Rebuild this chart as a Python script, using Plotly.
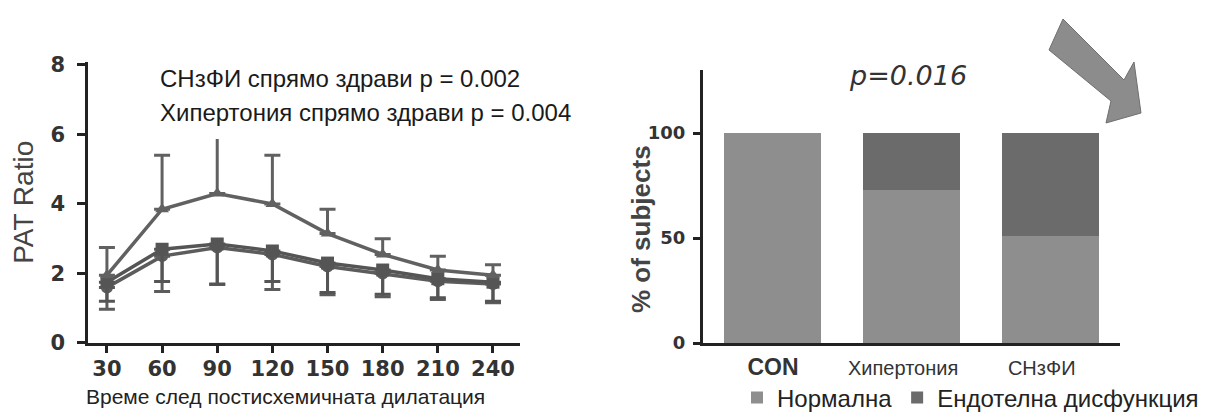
import plotly.graph_objects as go

# page body margin offsets the figure by 8px; build the figure in reference pixel space
OFF = 8
W, H = 1227 - OFF, 413 - OFF

# ---------------- data ----------------
time_min = [30, 60, 90, 120, 150, 180, 210, 240]
chf_ratio = [1.95, 3.85, 4.3, 4.0, 3.15, 2.55, 2.1, 1.95]
chf_err_up = [0.8, 1.55, 2.3, 1.4, 0.7, 0.45, 0.4, 0.3]
htn_ratio = [1.75, 2.7, 2.85, 2.65, 2.3, 2.1, 1.85, 1.75]
htn_err_down = [0.55, 0.93, 1.15, 0.88, 0.85, 0.7, 0.55, 0.55]
con_ratio = [1.6, 2.5, 2.75, 2.55, 2.2, 2.0, 1.78, 1.7]
con_err_down = [0.63, 1.02, 1.07, 1.01, 0.81, 0.67, 0.53, 0.54]

groups = ["CON", "Хипертония", "СНзФИ"]
NB = "\u00a0\u00a0\u00a0"
group_labels = ["<b><span style='font-size:23px'>CON</span></b>", "Хипертония" + NB, "СНзФИ" + NB]
normal_pct = [100, 73, 51]
dysfunction_pct = [0, 27, 49]

left_ticks = [0, 2, 4, 6, 8]
right_ticks = [0, 50, 100]


def px(x):
    return (x - OFF) / W


def py(y):
    return 1 - (y - OFF) / H


fig = go.Figure()

fig.add_trace(go.Scatter(
    x=time_min, y=con_ratio, mode="lines+markers", xaxis="x", yaxis="y",
    line=dict(color="#5c5c5c", width=3.5), marker=dict(symbol="circle", size=12, color="#5c5c5c"),
    error_y=dict(type="data", symmetric=False, array=[0] * 8, arrayminus=con_err_down,
                 color="#5c5c5c", thickness=3, width=8),
    showlegend=False))
fig.add_trace(go.Scatter(
    x=time_min, y=htn_ratio, mode="lines+markers", xaxis="x", yaxis="y",
    line=dict(color="#555555", width=3.5), marker=dict(symbol="square", size=13, color="#555555"),
    error_y=dict(type="data", symmetric=False, array=[0] * 8, arrayminus=htn_err_down,
                 color="#555555", thickness=3, width=8),
    showlegend=False))
fig.add_trace(go.Scatter(
    x=time_min, y=chf_ratio, mode="lines+markers", xaxis="x", yaxis="y",
    line=dict(color="#616161", width=3.5), marker=dict(symbol="triangle-up", size=12, color="#616161"),
    error_y=dict(type="data", symmetric=False, array=chf_err_up, arrayminus=[0] * 8,
                 color="#616161", thickness=3, width=8),
    showlegend=False))

fig.add_trace(go.Bar(x=groups, y=normal_pct, name="Нормална", xaxis="x2", yaxis="y2",
                     marker=dict(color="#8e8e8e", line=dict(width=0))))
fig.add_trace(go.Bar(x=groups, y=dysfunction_pct, name="Ендотелна дисфункция", xaxis="x2", yaxis="y2",
                     marker=dict(color="#6b6b6b", line=dict(width=0))))

axis_col = "#222222"
tick_font = dict(family="DejaVu Sans", size=21, color="#333333", weight="bold")

fig.update_layout(
    width=W, height=H, autosize=False,
    margin=dict(l=0, r=0, t=0, b=0, autoexpand=False),
    paper_bgcolor="white", plot_bgcolor="white",
    barmode="stack", bargap=0.3,
    xaxis=dict(domain=[px(88), px(520)], range=[19.7, 254.7], tickvals=time_min,
               showline=True, linecolor=axis_col, linewidth=2.5, ticks="outside", ticklen=7,
               tickwidth=2.5, tickcolor=axis_col, showgrid=False, zeroline=False,
               tickfont=tick_font, ticklabelstandoff=-2, automargin=False, anchor="y"),
    yaxis=dict(domain=[py(343), py(343 - 8.1 * 34.75)], range=[0, 8.1], tickvals=left_ticks,
               showline=True, linecolor=axis_col, linewidth=2.5, ticks="outside", ticklen=8,
               tickwidth=2.5, tickcolor=axis_col, showgrid=False, zeroline=False,
               tickfont=tick_font, ticklabelstandoff=8, automargin=False,
               title=dict(text="PAT Ratio", font=dict(family="Liberation Sans", size=28, color="#444"),
                          standoff=9),
               anchor="x"),
    xaxis2=dict(domain=[px(703), px(1120)], range=[-0.505, 2.505],
                tickvals=groups, ticktext=group_labels,
                showline=True, linecolor=axis_col, linewidth=3, ticks="", showgrid=False,
                zeroline=False, tickfont=dict(family="Liberation Sans", size=20, color="#333"),
                ticklabelstandoff=5, automargin=False, anchor="y2"),
    yaxis2=dict(domain=[py(343), py(70)], range=[0, 130], tickvals=right_ticks,
                showline=True, linecolor=axis_col, linewidth=3, ticks="outside", ticklen=7,
                tickwidth=2.5, tickcolor=axis_col, showgrid=False, zeroline=False,
                tickfont=dict(family="DejaVu Sans", size=18, color="#333", weight="bold"),
                ticklabelstandoff=4, automargin=False, anchor="x2"),
    legend=dict(orientation="h", x=px(737), y=py(398), xanchor="left", yanchor="middle",
                font=dict(family="Liberation Sans", size=24, color="#222"),
                bgcolor="rgba(0,0,0,0)", traceorder="normal", itemwidth=30,
                borderwidth=0),
)

# axis titles placed as in the reference
fig.add_annotation(text="Време след постисхемичната дилатация", xref="paper", yref="paper",
                   x=px(285), y=py(396), xanchor="center", yanchor="middle", showarrow=False,
                   font=dict(family="Liberation Sans", size=21, color="#222"))
fig.add_annotation(text="<b>% of subjects</b>", xref="paper", yref="paper",
                   x=px(641), y=py(229), xanchor="center", yanchor="middle", showarrow=False,
                   textangle=-90, font=dict(family="Liberation Sans", size=26, color="#444"))

# white box behind the p-value notes
fig.add_shape(type="rect", xref="paper", yref="paper", x0=px(152), x1=px(585), y0=py(139), y1=py(56),
              fillcolor="white", line=dict(width=0), layer="above")

note_font = dict(family="Liberation Sans", size=24, color="#1a1a1a")
fig.add_annotation(text="СНзФИ спрямо здрави p = 0.002", xref="paper", yref="paper",
                   x=px(158), y=py(78), xanchor="left", yanchor="middle", showarrow=False, font=note_font)
fig.add_annotation(text="Хипертония спрямо здрави p = 0.004", xref="paper", yref="paper",
                   x=px(158), y=py(112), xanchor="left", yanchor="middle", showarrow=False, font=note_font)

fig.add_annotation(text="<i>p=0.016</i>", xref="paper", yref="paper",
                   x=px(908), y=py(76), xanchor="center", yanchor="middle", showarrow=False,
                   font=dict(family="DejaVu Sans", size=27, color="#333"))

# decorative arrow
arrow_px = [(1063, 19), (1124, 80), (1134, 62), (1141, 113), (1106, 123), (1111, 101), (1049, 50)]
path = "M " + " L ".join(f"{px(x):.5f},{py(y):.5f}" for x, y in arrow_px) + " Z"
fig.add_shape(type="path", xref="paper", yref="paper", path=path,
              fillcolor="#8c8c8c", line=dict(color="#6f6f6f", width=1), layer="above")

fig.write_html("out.html")
